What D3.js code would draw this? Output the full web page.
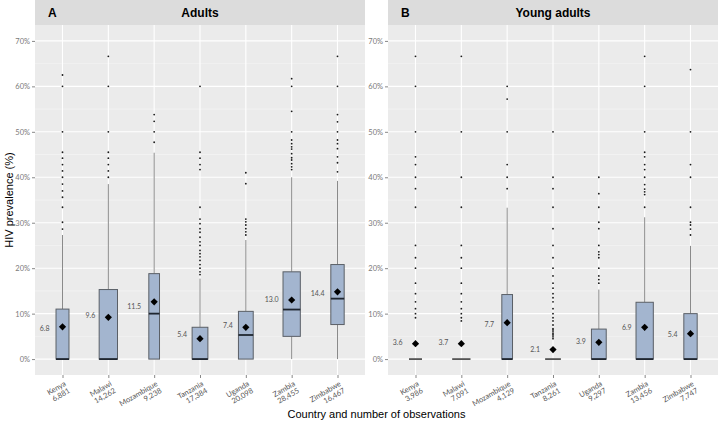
<!DOCTYPE html>
<html>
<head>
<meta charset="utf-8">
<script src="https://cdn.jsdelivr.net/npm/d3@7"></script>
<style>
body { margin: 0; background: #fff; }
</style>
</head>
<body>
<script>
var width = 718;
var height = 425;

// categories and tick labels
var countries = ["Kenya", "Malawi", "Mozambique", "Tanzania", "Uganda", "Zambia", "Zimbabwe"];
var obsAdults = ["6,881", "14,262", "9,238", "17,384", "20,098", "28,455", "16,467"];
var obsYoung = ["3,986", "7,091", "4,129", "8,261", "9,297", "13,456", "7,747"];
var yTicks = [0, 10, 20, 30, 40, 50, 60, 70];
// relative number of clusters (boxes use varwidth)
var clusterWeight = [0.50, 1, 0.34, 0.74, 0.65, 0.89, 0.53];

// A - adults
var q1A = [0, 0, 0, 0, 0, 5.0, 7.6];
var medA = [0, 0, 10.0, 0, 5.3, 10.9, 13.3];
var q3A = [11.0, 15.3, 18.8, 7.0, 10.5, 19.2, 20.8];
var whiskLoA = [0, 0, 0, 0, 0, 0, 0];
var whiskHiA = [27.3, 38.5, 45.4, 17.7, 26.2, 40.0, 39.2];
var meanA = [7.1, 9.2, 12.6, 4.5, 7.0, 13.0, 14.8];
var labelA = [6.8, 9.6, 11.5, 5.4, 7.4, 13.0, 14.4];
var outA = [
  [28.6, 30.1, 33.4, 35.6, 37.0, 38.5, 40.0, 41.4, 42.8, 44.2, 45.5, 50.0, 60.0, 62.5],
  [40.0, 41.4, 42.8, 44.2, 45.5, 50.0, 60.0, 66.6],
  [47.7, 50.0, 52.3, 53.8],
  [18.6, 19.2, 20.0, 20.8, 21.7, 22.5, 23.2, 23.9, 25.0, 25.8, 26.8, 27.9, 28.7, 29.8, 30.8, 33.4, 41.7, 42.8, 44.2, 45.5, 60.0],
  [27.3, 28.0, 28.7, 29.5, 30.2, 30.8, 38.6, 41.0],
  [41.7, 42.3, 43.0, 43.8, 44.3, 45.2, 46.2, 46.7, 47.4, 48.2, 50.0, 54.5, 60.0, 61.7],
  [41.2, 43.2, 44.5, 46.3, 47.4, 48.2, 50.0, 52.2, 53.8, 60.0, 66.6]
];

// B - young adults
var q1B = [0, 0, 0, 0, 0, 0, 0];
var medB = [0, 0, 0, 0, 0, 0, 0];
var q3B = [0, 0, 14.2, 0, 6.6, 12.5, 10.0];
var whiskLoB = [0, 0, 0, 0, 0, 0, 0];
var whiskHiB = [0, 0, 33.3, 0, 15.3, 31.2, 24.9];
var meanB = [3.4, 3.4, 8.0, 2.1, 3.7, 7.0, 5.6];
var labelB = [3.6, 3.7, 7.7, 2.1, 3.9, 6.9, 5.4];
var outB = [
  [9.1, 10.0, 11.1, 12.6, 14.4, 16.7, 20.0, 22.3, 25.0, 33.4, 37.5, 40.0, 42.8, 44.5, 50.0, 60.0, 66.6],
  [8.4, 9.1, 10.0, 11.1, 12.6, 14.4, 16.7, 20.0, 22.3, 25.0, 33.4, 40.0, 50.0, 66.6],
  [37.5, 40.0, 42.8, 50.0, 57.2, 60.0],
  [4.5, 4.9, 5.3, 5.6, 6.0, 6.4, 6.7, 7.5, 8.4, 9.1, 10.0, 11.1, 12.6, 13.5, 14.4, 15.6, 16.7, 18.3, 20.0, 22.3, 25.0, 28.7, 33.4, 37.5, 40.0, 50.0],
  [16.7, 17.5, 18.3, 20.0, 22.3, 23.0, 23.6, 25.0, 28.7, 30.1, 33.4, 36.4, 40.0],
  [33.4, 36.2, 36.8, 37.4, 38.4, 40.0, 41.7, 42.8, 44.5, 45.5, 50.0, 60.0, 66.6],
  [27.3, 28.6, 29.5, 30.1, 33.4, 40.0, 42.8, 50.0, 63.7]
];

function buildRows(obs, q1, med, q3, lo, hi, mean, lab, out) {
    return countries.map(function (c, i) {
        return {
            country: c, obs: obs[i], w: clusterWeight[i],
            q1: q1[i], med: med[i], q3: q3[i], lo: lo[i], hi: hi[i],
            mean: mean[i], label: lab[i], out: out[i]
        };
    });
}

var panels = [
    { tag: "A", title: "Adults", left: 35, right: 365,
      rows: buildRows(obsAdults, q1A, medA, q3A, whiskLoA, whiskHiA, meanA, labelA, outA) },
    { tag: "B", title: "Young adults", left: 388, right: 718,
      rows: buildRows(obsYoung, q1B, medB, q3B, whiskLoB, whiskHiB, meanB, labelB, outB) }
];

var panelTop = 25, panelBottom = 375, stripTop = 0;

var svgContainer = d3.select("body")
                     .append("svg")
                     .attr("width", width)
                     .attr("height", height);

var y = d3.scaleLinear().domain([-3.5, 73.5]).range([panelBottom, panelTop]);

panels.forEach(function (p) {
    var x = d3.scalePoint().domain(countries).range([p.left, p.right]).padding(0.6);
    var step = x.step();
    var g = svgContainer.append("g").attr("class", "panel");

    // strip
    g.append("rect")
        .attr("x", p.left).attr("y", stripTop)
        .attr("width", p.right - p.left).attr("height", panelTop - stripTop)
        .attr("fill", "#dcdcdc");
    g.append("text")
        .attr("x", p.left + 13).attr("y", 17)
        .style("font-family", "Liberation Sans, Arial, sans-serif")
        .style("font-weight", "bold").style("font-size", "12px")
        .text(p.tag);
    g.append("text")
        .attr("x", (p.left + p.right) / 2).attr("y", 17)
        .attr("text-anchor", "middle")
        .style("font-family", "Liberation Sans, Arial, sans-serif")
        .style("font-weight", "bold").style("font-size", "12px")
        .text(p.title);

    // background + grid
    g.append("rect")
        .attr("x", p.left).attr("y", panelTop)
        .attr("width", p.right - p.left).attr("height", panelBottom - panelTop)
        .attr("fill", "#ebebeb");
    var minor = d3.range(5, 70, 10);
    g.selectAll(".minor").data(minor).enter().append("line")
        .attr("x1", p.left).attr("x2", p.right)
        .attr("y1", function (d) { return y(d); })
        .attr("y2", function (d) { return y(d); })
        .attr("stroke", "#f6f6f6").attr("stroke-width", 0.6);
    g.selectAll(".major").data(yTicks).enter().append("line")
        .attr("x1", p.left).attr("x2", p.right)
        .attr("y1", function (d) { return y(d); })
        .attr("y2", function (d) { return y(d); })
        .attr("stroke", "#fff").attr("stroke-width", 1.1);
    g.selectAll(".vgrid").data(countries).enter().append("line")
        .attr("x1", function (d) { return x(d); })
        .attr("x2", function (d) { return x(d); })
        .attr("y1", panelTop).attr("y2", panelBottom)
        .attr("stroke", "#fff").attr("stroke-width", 1.1);

    // y axis
    var yaxis = g.append("g")
        .attr("transform", "translate(" + p.left + ",0)")
        .call(d3.axisLeft(y).tickValues(yTicks).tickSize(3).tickPadding(2)
            .tickFormat(function (d) { return d + "%"; }));
    yaxis.select(".domain").remove();
    yaxis.selectAll("line").attr("stroke", "#888");
    yaxis.selectAll("text")
        .attr("fill", "#7a7a7a")
        .style("font-family", "Lato, sans-serif").style("font-size", "7.5px");

    // x axis
    var xaxis = g.append("g")
        .attr("transform", "translate(0," + panelBottom + ")")
        .call(d3.axisBottom(x).tickSize(3));
    xaxis.select(".domain").remove();
    xaxis.selectAll("line").attr("stroke", "#888");
    xaxis.selectAll("text").remove();
    var xl = g.selectAll(".xlab").data(p.rows).enter().append("g")
        .attr("class", "xlab")
        .attr("transform", function (d) { return "translate(" + (x(d.country) + 1) + "," + (panelBottom + 5) + ") rotate(-30)"; });
    xl.append("text").attr("y", 6).attr("text-anchor", "end")
        .attr("fill", "#555")
        .style("font-family", "Lato, sans-serif").style("font-size", "7.5px")
        .text(function (d) { return d.country; });
    xl.append("text").attr("y", 14).attr("text-anchor", "end")
        .attr("fill", "#555")
        .style("font-family", "Lato, sans-serif").style("font-size", "7.5px")
        .text(function (d) { return d.obs; });

    var maxW = 0.4 * step;
    function bw(d) { return maxW * Math.sqrt(d.w); }

    var box = g.selectAll(".box").data(p.rows).enter().append("g").attr("class", "box");

    // whiskers
    box.append("line")
        .attr("x1", function (d) { return x(d.country); })
        .attr("x2", function (d) { return x(d.country); })
        .attr("y1", function (d) { return y(d.q3); })
        .attr("y2", function (d) { return y(d.hi); })
        .attr("stroke", "#8a8a8a").attr("stroke-width", 1);
    box.append("line")
        .attr("x1", function (d) { return x(d.country); })
        .attr("x2", function (d) { return x(d.country); })
        .attr("y1", function (d) { return y(d.q1); })
        .attr("y2", function (d) { return y(d.lo); })
        .attr("stroke", "#8a8a8a").attr("stroke-width", 1);

    // outliers
    box.each(function (d) {
        d3.select(this).selectAll(".out").data(d.out).enter().append("circle")
            .attr("cx", x(d.country))
            .attr("cy", function (v) { return y(v); })
            .attr("r", 0.9)
            .attr("fill", "#1a1a1a");
    });

    // boxes
    box.append("rect")
        .attr("x", function (d) { return x(d.country) - bw(d) / 2; })
        .attr("width", bw)
        .attr("y", function (d) { return y(d.q3); })
        .attr("height", function (d) { return y(d.q1) - y(d.q3); })
        .attr("fill", "#a3b5cf")
        .attr("stroke", "#5a5f66").attr("stroke-width", 1);
    box.append("line")
        .attr("x1", function (d) { return x(d.country) - bw(d) / 2; })
        .attr("x2", function (d) { return x(d.country) + bw(d) / 2; })
        .attr("y1", function (d) { return y(d.med); })
        .attr("y2", function (d) { return y(d.med); })
        .attr("stroke", function (d) { return d.q3 > d.q1 ? "#1f2630" : "#555"; })
        .attr("stroke-width", 1.8);

    // means
    box.append("path")
        .attr("d", d3.symbol(d3.symbolSquare).size(26))
        .attr("transform", function (d) { return "translate(" + x(d.country) + "," + y(d.mean) + ") rotate(45)"; })
        .attr("fill", "#000");
    box.append("text")
        .attr("x", function (d) { return x(d.country) - 13; })
        .attr("y", function (d) { return y(d.label); })
        .attr("dy", "0.35em")
        .attr("text-anchor", "end")
        .attr("fill", "#555")
        .style("font-family", "Lato, sans-serif").style("font-size", "7px")
        .text(function (d) { return d.label.toFixed(1); });
});

// axis titles
svgContainer.append("text")
    .attr("transform", "translate(13,200) rotate(-90)")
    .attr("text-anchor", "middle")
    .style("font-family", "Liberation Sans, Arial, sans-serif").style("font-size", "11px")
    .text("HIV prevalence (%)");
svgContainer.append("text")
    .attr("x", 376.5).attr("y", 418)
    .attr("text-anchor", "middle")
    .style("font-family", "Liberation Sans, Arial, sans-serif").style("font-size", "11px")
    .text("Country and number of observations");
</script>
</body>
</html>
